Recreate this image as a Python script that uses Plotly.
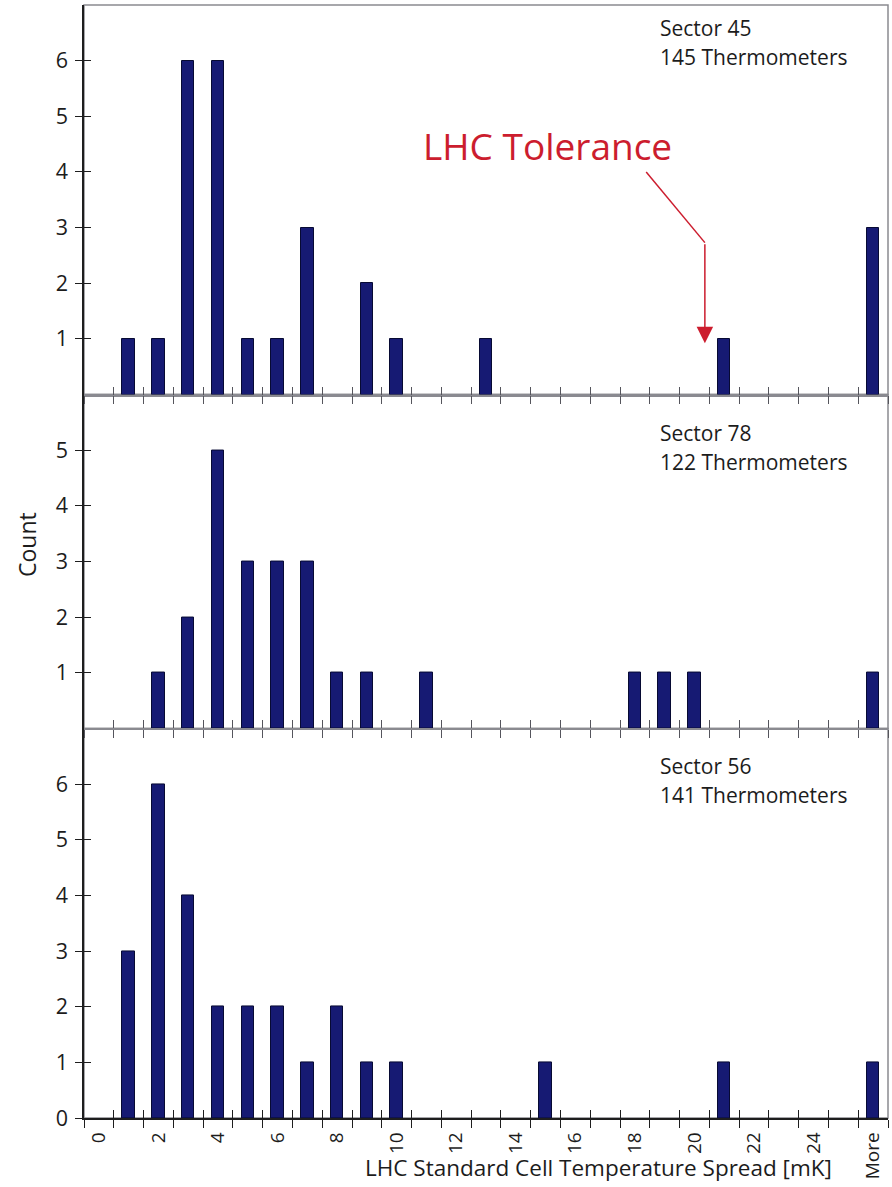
import plotly.graph_objects as go

# Histogram bins: 0 .. 25 mK plus an overflow bin
BIN_LABELS = [str(i) for i in range(26)] + ["More"]

# Counts per bin for each sector
SECTOR_45 = [0, 1, 1, 6, 6, 1, 1, 3, 0, 2,
             1, 0, 0, 1, 0, 0, 0, 0, 0, 0,
             0, 1, 0, 0, 0, 0, 3]
SECTOR_78 = [0, 0, 1, 2, 5, 3, 3, 3, 1, 1,
             0, 1, 0, 0, 0, 0, 0, 0, 1, 1,
             1, 0, 0, 0, 0, 0, 1]
SECTOR_56 = [0, 3, 6, 4, 2, 2, 2, 1, 2, 1,
             1, 0, 0, 0, 0, 1, 0, 0, 0, 0,
             0, 1, 0, 0, 0, 0, 1]

PANEL_COUNTS = [SECTOR_45, SECTOR_78, SECTOR_56]
PANEL_NAMES = ["Sector 45", "Sector 78", "Sector 56"]
PANEL_SENSORS = ["145 Thermometers", "122 Thermometers", "141 Thermometers"]
PANEL_YMAX = [7, 6, 7]
PANEL_YTICKS = [[1, 2, 3, 4, 5, 6], [1, 2, 3, 4, 5], [0, 1, 2, 3, 4, 5, 6]]

TOLERANCE_LABEL = "LHC Tolerance"
TOLERANCE_MK = 20.35

X_TITLE = "LHC Standard Cell Temperature Spread [mK]"
Y_TITLE = "Count"

# Styling
FONT = "Open Sans"
TEXT = "#1c1c1c"
BAR_FILL = "#161a73"
BAR_EDGE = "#070a33"
FRAME = "#8a8a90"
AXIS_DARK = "#1e1e1e"
RED = "#cc1d2e"

W, H = 892, 1187
MARGIN = dict(l=84, r=4, t=5, b=69)
PLOT_H = H - MARGIN["t"] - MARGIN["b"]
PLOT_W = W - MARGIN["l"] - MARGIN["r"]

n_bins = len(BIN_LABELS)
x_range = [-0.5, n_bins - 0.5]
label_pos = [i for i in range(n_bins) if i % 2 == 0 and i < n_bins - 1] + [n_bins - 1]
label_txt = [BIN_LABELS[i] for i in label_pos]

# Panels share one count scale, so each panel height follows its y range
total = sum(PANEL_YMAX)
domains = []
top = 1.0
for ymax in PANEL_YMAX:
    h = ymax / total
    domains.append([max(top - h, 0.0), top])
    top -= h

fig = go.Figure()
layout = dict(
    width=W, height=H, autosize=False, margin=MARGIN,
    paper_bgcolor="white", plot_bgcolor="white",
    font=dict(family=FONT, color=TEXT, size=18),
    showlegend=False, bargap=0, shapes=[], annotations=[],
)

for p, counts in enumerate(PANEL_COUNTS):
    n = p + 1
    o = p + 4
    xa, ya = ("x" if n == 1 else f"x{n}"), ("y" if n == 1 else f"y{n}")
    xo, yo = f"x{o}", f"y{o}"
    is_bottom = p == len(PANEL_COUNTS) - 1

    xs = [i for i, v in enumerate(counts) if v > 0]
    ys = [counts[i] for i in xs]
    fig.add_trace(go.Bar(
        x=xs, y=ys, width=0.42, xaxis=xa, yaxis=ya,
        marker=dict(color=BAR_FILL, line=dict(color=BAR_EDGE, width=1)),
        hoverinfo="y",
    ))
    # empty trace that carries the overlay axes (inner tick marks)
    fig.add_trace(go.Scatter(x=[None], y=[None], xaxis=xo, yaxis=yo,
                             hoverinfo="skip", mode="markers"))

    tick_col = AXIS_DARK if is_bottom else "#55555c"
    layout["xaxis" if n == 1 else f"xaxis{n}"] = dict(
        domain=[0, 1], range=x_range, anchor=ya, fixedrange=True,
        showgrid=False, zeroline=False,
        showline=True, linewidth=1.5,
        linecolor=AXIS_DARK if is_bottom else FRAME,
        tickmode="array", tickvals=label_pos if is_bottom else [],
        ticktext=label_txt if is_bottom else [],
        showticklabels=is_bottom, ticks="", tickangle=-90,
        ticklabelstandoff=5,
        tickfont=dict(size=19, color=TEXT, family=FONT),
        minor=dict(tickmode="linear", tick0=0.5, dtick=1, ticks="outside",
                   ticklen=8, tickwidth=1.2, tickcolor=tick_col, showgrid=False),
    )
    layout["yaxis" if n == 1 else f"yaxis{n}"] = dict(
        domain=domains[p], range=[0, PANEL_YMAX[p]], anchor=xa, fixedrange=True,
        showgrid=False, zeroline=False,
        showline=True, linewidth=1.5, linecolor=AXIS_DARK,
        tickmode="array", tickvals=PANEL_YTICKS[p],
        ticks="outside", ticklen=7, tickwidth=1.2, tickcolor=AXIS_DARK,
        ticklabelstandoff=3,
        tickfont=dict(size=21.5, color=TEXT, family=FONT),
    )
    layout[f"xaxis{o}"] = dict(
        overlaying=xa, anchor=yo, range=x_range, fixedrange=True,
        showgrid=False, zeroline=False, showline=False, showticklabels=False,
        tickmode="linear", tick0=0.5, dtick=1,
        ticks="inside", ticklen=8, tickwidth=1.2, tickcolor=tick_col,
    )
    layout[f"yaxis{o}"] = dict(
        overlaying=ya, anchor=xo, range=[0, PANEL_YMAX[p]], fixedrange=True,
        showgrid=False, zeroline=False, showline=False, showticklabels=False,
        tickmode="array", tickvals=PANEL_YTICKS[p],
        ticks="inside", ticklen=7, tickwidth=1.2, tickcolor=AXIS_DARK,
    )

    # grey frame round the panel
    layout["shapes"].append(dict(
        type="rect", xref=f"{xa} domain", yref=f"{ya} domain",
        x0=0, x1=1, y0=0, y1=1, layer="below",
        line=dict(color=FRAME, width=1.5), fillcolor="rgba(0,0,0,0)",
    ))

    # sector caption, two lines, top right of the panel
    px_top = 23 if p == 0 else 38
    panel_top_px = (1 - domains[p][1]) * PLOT_H
    for k, line in enumerate([PANEL_NAMES[p], PANEL_SENSORS[p]]):
        y_px = panel_top_px + px_top + 29 * k
        layout["annotations"].append(dict(
            text=line, xref="paper", yref="paper",
            x=(658 - MARGIN["l"]) / PLOT_W, y=1 - y_px / PLOT_H,
            xanchor="left", yanchor="middle", showarrow=False,
            font=dict(size=21, color=TEXT, family=FONT),
        ))

# Tolerance label with a bent arrow pointing at the tolerance bin
layout["annotations"].append(dict(
    text=TOLERANCE_LABEL, xref="x", yref="y", x=15.05, y=4.47,
    showarrow=False, font=dict(size=37, color=RED, family=FONT),
))
layout["shapes"].append(dict(
    type="line", xref="x", yref="y", x0=18.38, y0=4.0, x1=TOLERANCE_MK, y1=2.73,
    line=dict(color=RED, width=1.5), layer="above",
))
layout["annotations"].append(dict(
    text="", xref="x", yref="y", x=TOLERANCE_MK, y=0.92,
    axref="x", ayref="y", ax=TOLERANCE_MK, ay=2.73,
    showarrow=True, arrowhead=2, arrowsize=2.2, arrowwidth=1.5,
    arrowcolor=RED, standoff=0,
))

# Axis titles
layout["annotations"].append(dict(
    text=Y_TITLE, xref="paper", yref="paper",
    x=(27 - MARGIN["l"]) / PLOT_W, y=1 - (545 - MARGIN["t"]) / PLOT_H,
    textangle=-90, showarrow=False, xanchor="center", yanchor="middle",
    font=dict(size=23, color=TEXT, family=FONT),
))
layout["annotations"].append(dict(
    text=X_TITLE, xref="paper", yref="paper",
    x=(598 - MARGIN["l"]) / PLOT_W, y=-(1168 - MARGIN["t"] - PLOT_H) / PLOT_H,
    showarrow=False, xanchor="center", yanchor="middle",
    font=dict(size=22.5, color=TEXT, family=FONT),
))

fig.update_layout(**layout)
fig.write_html("out.html")
